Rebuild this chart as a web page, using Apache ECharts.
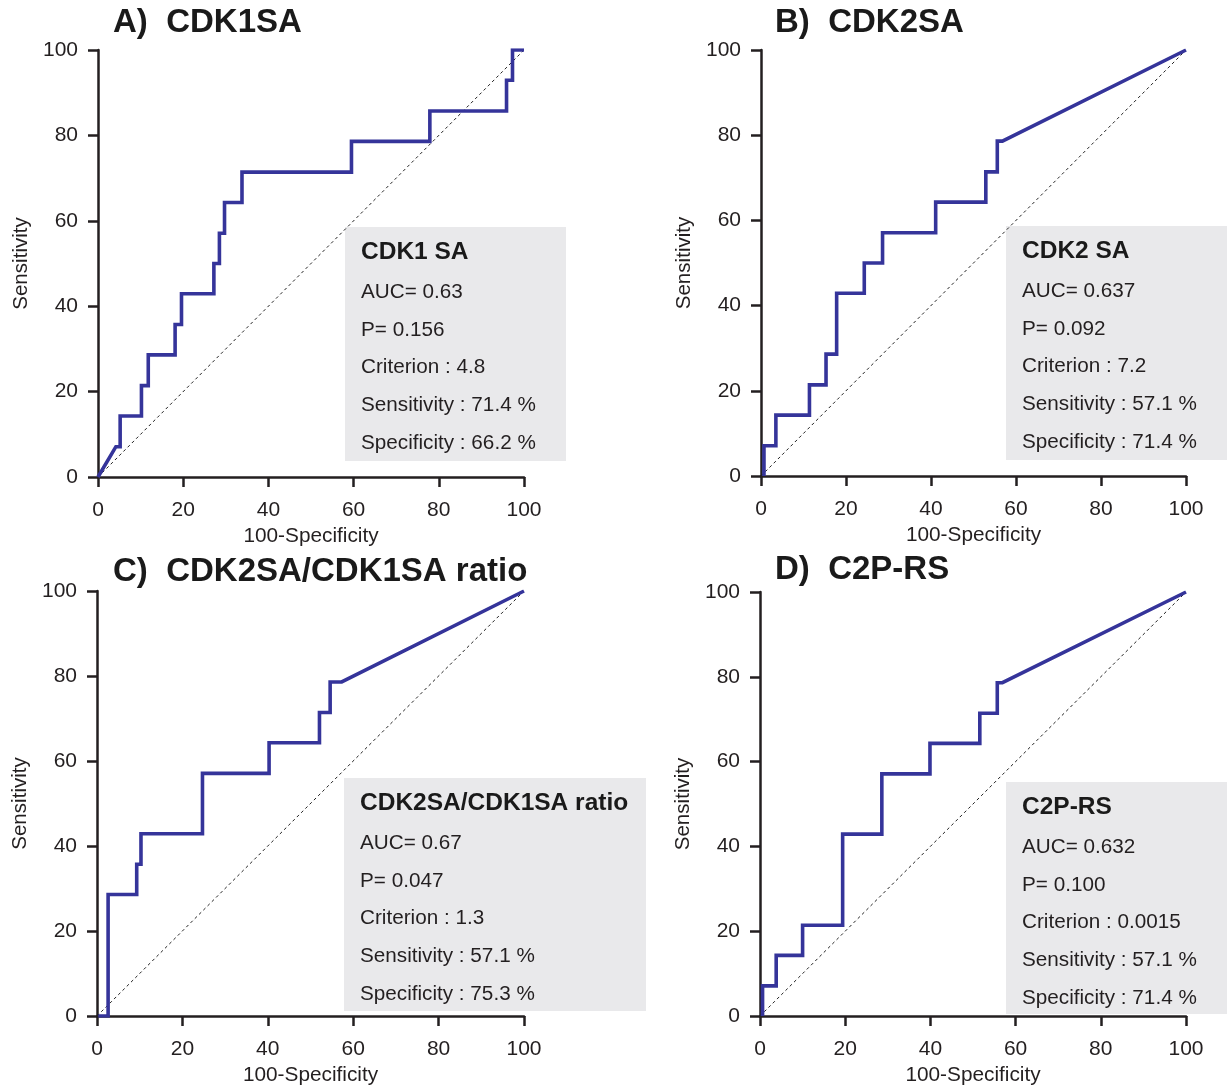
<!DOCTYPE html>
<html>
<head>
<meta charset="utf-8">
<script src="https://cdn.jsdelivr.net/npm/echarts@6/dist/echarts.min.js"></script>
<style>html,body{margin:0;padding:0;background:#fff}#c{width:1229px;height:1087px}</style>
</head>
<body>
<div id="c"></div>
<script>
// ---- data (100-Specificity, Sensitivity) ----
const titles = ['A)  CDK1SA', 'B)  CDK2SA', 'C)  CDK2SA/CDK1SA ratio', 'D)  C2P-RS'];
const xTicks = [0, 20, 40, 60, 80, 100];
const yTicks = [0, 20, 40, 60, 80, 100];

const fprA = [0, 4.2, 5.2, 5.2, 10.2, 10.2, 11.8, 11.8, 18.1, 18.1, 19.6, 19.6, 27.2, 27.2, 28.5, 28.5, 29.7, 29.7, 33.8, 33.8, 59.5, 59.5, 77.9, 77.9, 95.9, 95.9, 97.3, 97.3, 100];
const tprA = [0, 7.1, 7.1, 14.3, 14.3, 21.4, 21.4, 28.6, 28.6, 35.7, 35.7, 42.9, 42.9, 50.0, 50.0, 57.1, 57.1, 64.3, 64.3, 71.4, 71.4, 78.6, 78.6, 85.7, 85.7, 92.9, 92.9, 100, 100];

const fprB = [0.7, 0.7, 3.5, 3.5, 11.4, 11.4, 15.3, 15.3, 17.8, 17.8, 24.3, 24.3, 28.6, 28.6, 41.1, 41.1, 52.9, 52.9, 55.6, 55.6, 56.8, 100];
const tprB = [0, 7.1, 7.1, 14.3, 14.3, 21.4, 21.4, 28.6, 28.6, 42.9, 42.9, 50.0, 50.0, 57.1, 57.1, 64.3, 64.3, 71.4, 71.4, 78.6, 78.6, 100];

const fprC = [0.3, 2.6, 2.6, 9.3, 9.3, 10.3, 10.3, 24.7, 24.7, 40.3, 40.3, 52.1, 52.1, 54.6, 54.6, 57.3, 100];
const tprC = [0, 0, 28.6, 28.6, 35.7, 35.7, 42.9, 42.9, 57.1, 57.1, 64.3, 64.3, 71.4, 71.4, 78.6, 78.6, 100];

const fprD = [0.6, 0.6, 3.8, 3.8, 10.0, 10.0, 19.4, 19.4, 28.6, 28.6, 39.9, 39.9, 51.6, 51.6, 55.7, 55.7, 56.9, 100];
const tprD = [0, 7.1, 7.1, 14.3, 14.3, 21.4, 21.4, 42.9, 42.9, 57.1, 57.1, 64.3, 64.3, 71.4, 71.4, 78.6, 78.6, 100];

const refX = [0, 100];
const refY = [0, 100];

const boxTitles = ['CDK1 SA', 'CDK2 SA', 'CDK2SA/CDK1SA ratio', 'C2P-RS'];
const boxLines = [
  ['AUC= 0.63', 'P= 0.156', 'Criterion : 4.8', 'Sensitivity : 71.4 %', 'Specificity : 66.2 %'],
  ['AUC= 0.637', 'P= 0.092', 'Criterion : 7.2', 'Sensitivity : 57.1 %', 'Specificity : 71.4 %'],
  ['AUC= 0.67', 'P= 0.047', 'Criterion : 1.3', 'Sensitivity : 57.1 %', 'Specificity : 75.3 %'],
  ['AUC= 0.632', 'P= 0.100', 'Criterion : 0.0015', 'Sensitivity : 57.1 %', 'Specificity : 71.4 %']
];

// ---- layout ----
const FONT = '"Liberation Sans", Arial, Helvetica, sans-serif';
const TXT = '#231f20';
const CURVE = '#35349a';
const grids = [
  {left: 98, top: 50, width: 426, height: 427},
  {left: 761, top: 50, width: 425, height: 426},
  {left: 97, top: 591, width: 427, height: 427},
  {left: 760, top: 592, width: 426, height: 426}
];
const titlePos = [[113, 22], [775, 22], [113, 571], [775, 569]];
const boxes = [
  {x: 345, y: 227, w: 221, h: 234},
  {x: 1006, y: 226, w: 221, h: 234},
  {x: 344, y: 778, w: 302, h: 233},
  {x: 1006, y: 782, w: 221, h: 232}
];

const curves = [[fprA, tprA], [fprB, tprB], [fprC, tprC], [fprD, tprD]];
const pairs = (xs, ys) => xs.map((x, i) => [x, ys[i]]);

const xAxes = [], yAxes = [], series = [], graphic = [];
grids.forEach((g, i) => {
  xAxes.push({
    type: 'value', gridIndex: i, min: 0, max: 100, interval: 20,
    name: '100-Specificity', nameLocation: 'middle', nameGap: 49,
    nameTextStyle: {fontFamily: FONT, fontSize: 20.8, color: TXT},
    axisLine: {show: true, lineStyle: {color: TXT, width: 2.5}},
    axisTick: {show: true, length: 10, lineStyle: {color: TXT, width: 2.5}},
    axisLabel: {fontFamily: FONT, fontSize: 21, color: TXT, margin: 23},
    splitLine: {show: false}
  });
  yAxes.push({
    type: 'value', gridIndex: i, min: 0, max: 100, interval: 20,
    name: 'Sensitivity', nameLocation: 'middle', nameGap: 66, nameRotate: 90,
    nameTextStyle: {fontFamily: FONT, fontSize: 20.6, color: TXT},
    axisLine: {show: true, lineStyle: {color: TXT, width: 2.5}},
    axisTick: {show: true, length: 10, lineStyle: {color: TXT, width: 2.5}},
    axisLabel: {fontFamily: FONT, fontSize: 21, color: TXT, margin: 20},
    splitLine: {show: false}
  });
  series.push({
    type: 'line', xAxisIndex: i, yAxisIndex: i, data: pairs(refX, refY),
    symbol: 'none', silent: true, z: 2,
    lineStyle: {color: '#222', width: 1, type: [3, 3]}
  });
  series.push({
    type: 'line', xAxisIndex: i, yAxisIndex: i, data: pairs(curves[i][0], curves[i][1]),
    symbol: 'none', silent: true, z: 3,
    lineStyle: {color: CURVE, width: 3.6, join: 'miter'}
  });
  graphic.push({
    type: 'text', x: titlePos[i][0], y: titlePos[i][1] + 1,
    style: {text: titles[i], font: 'bold 33px ' + FONT, fill: '#1a1a1a', textVerticalAlign: 'middle'}
  });
  const b = boxes[i];
  graphic.push({
    type: 'rect', shape: {x: b.x, y: b.y, width: b.w, height: b.h},
    style: {fill: '#e9e9eb'}, z: 0
  });
  graphic.push({
    type: 'text', x: b.x + 16, y: b.y + 25, z: 10,
    style: {text: boxTitles[i], font: 'bold 24.5px ' + FONT, fill: '#1a1a1a', textVerticalAlign: 'middle'}
  });
  boxLines[i].forEach((t, k) => {
    graphic.push({
      type: 'text', x: b.x + 16, y: b.y + 65 + k * 37.8, z: 10,
      style: {text: t, font: '20.7px ' + FONT, fill: TXT, textVerticalAlign: 'middle'}
    });
  });
});

const chart = echarts.init(document.getElementById('c'), null, {renderer: 'canvas'});
chart.setOption({
  animation: false,
  backgroundColor: '#fff',
  grid: grids.map(g => Object.assign({containLabel: false}, g)),
  xAxis: xAxes,
  yAxis: yAxes,
  series: series,
  graphic: {elements: graphic}
});
</script>
</body>
</html>
